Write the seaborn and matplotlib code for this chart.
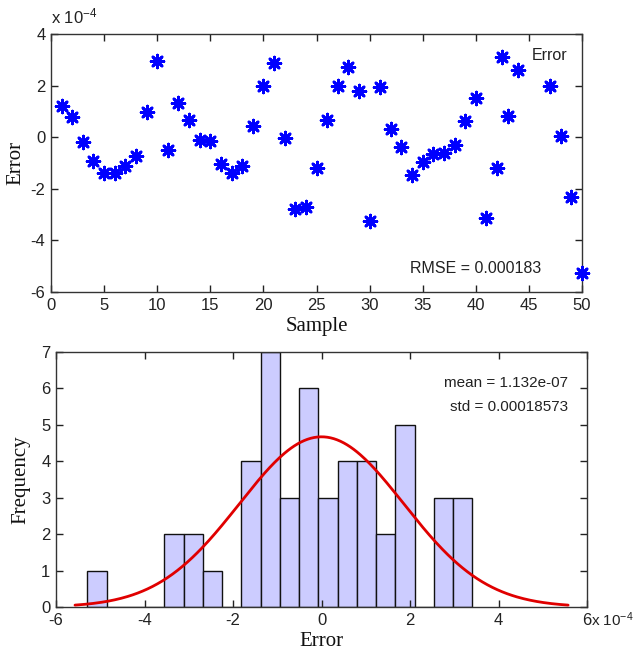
import numpy as np
import pandas as pd
import matplotlib
matplotlib.use('Agg')
import matplotlib.pyplot as plt
import seaborn as sns

# ---- data (error values in units of 1e-4) ----
sample = [1, 2, 3, 4, 5, 6, 7, 8, 9, 10, 11, 12, 13, 14, 15, 16, 17, 18, 19, 20,
          21, 22, 23, 24, 25, 26, 27, 28, 29, 30, 31, 32, 33, 34, 35, 36, 37, 38, 39, 40,
          41, 42, 42.5, 43, 44, 47, 48, 49, 50]
error_e4 = [1.19, 0.80, -0.17, -0.92, -1.40, -1.40, -1.12, -0.73, 0.99, 2.96,
            -0.49, 1.34, 0.65, -0.11, -0.13, -1.05, -1.40, -1.10, 0.44, 2.00,
            2.87, -0.02, -2.80, -2.70, -1.21, 0.65, 2.00, 2.74, 1.80, -3.24,
            1.94, 0.31, -0.37, -1.47, -0.97, -0.65, -0.60, -0.30, 0.61, 1.51,
            -3.15, -1.18, 3.11, 0.84, 2.59, 2.00, 0.05, -2.33, -5.26]
bin_counts = [1, 0, 0, 0, 2, 2, 1, 0, 4, 7, 3, 6, 3, 4, 4, 2, 5, 0, 3, 3]
hist_min = -5.29
hist_max = 3.41
fit_mean = 1.132e-07
fit_std = 0.00018573
rmse = 0.000183
n_samples = 50
x_ticks_top = list(range(0, 51, 5))
y_ticks_top = list(range(-6, 5, 2))
x_ticks_bot = list(range(-6, 7, 2))
y_ticks_bot = list(range(0, 8))

sns.set_style('ticks')
plt.rcParams['font.family'] = ['Liberation Sans', 'DejaVu Sans']
plt.rcParams['mathtext.default'] = 'regular'
plt.rcParams['axes.unicode_minus'] = False

W, H = 636, 654
fig = plt.figure(figsize=(W / 100, H / 100), dpi=100, facecolor='white')
ax1 = fig.add_axes([51 / W, 1 - 292 / H, (582 - 51) / W, (292 - 34) / H])
ax2 = fig.add_axes([56 / W, 1 - 607 / H, (587 - 56) / W, (607 - 352) / H])

serif = ['Liberation Serif', 'DejaVu Serif']
txt_col = '#222222'

# ---- top: error scatter ----
df = pd.DataFrame({'Sample': sample, 'Error': error_e4})
sns.scatterplot(data=df, x='Sample', y='Error', ax=ax1, marker=(8, 2, 0), s=85,
                color='blue', linewidth=2.0, label='Error',
                clip_on=False, zorder=6)
ax1.set_xlim(0, 50)
ax1.set_ylim(-6, 4)
ax1.set_xticks(x_ticks_top)
ax1.set_yticks(y_ticks_top)
ax1.set_xlabel('Sample', fontsize=15, family=serif, labelpad=3, color='#111111')
ax1.set_ylabel('Error', fontsize=15, family=serif, labelpad=4, color='#111111')
leg = ax1.legend(loc='upper right', frameon=False, handlelength=0, handletextpad=0,
                 fontsize=11.5, borderaxespad=0.5)
for h in leg.legend_handles:
    h.set_visible(False)
for t in leg.get_texts():
    t.set_color(txt_col)
ax1.text(0.923, 0.093, f'RMSE = {rmse:.6f}', transform=ax1.transAxes,
         ha='right', va='center', fontsize=11.5, color=txt_col)
ax1.text(0.0, 1.03, 'x 10$^{-4}$', transform=ax1.transAxes, ha='left', va='bottom',
         fontsize=12, color=txt_col)

# ---- bottom: histogram with normal fit ----
edges = np.linspace(hist_min, hist_max, len(bin_counts) + 1)
centers = (edges[:-1] + edges[1:]) / 2
bin_w = edges[1] - edges[0]
hist_df = pd.DataFrame({'center': centers, 'count': bin_counts})
sns.histplot(data=hist_df, x='center', weights='count', bins=list(edges), ax=ax2,
             color=(0.8, 0.8, 1.0), edgecolor='#111111', linewidth=1, alpha=1,
             zorder=1)
mu = fit_mean * 1e4
sd = fit_std * 1e4
xs = np.linspace(mu - 3 * sd, mu + 3 * sd, 300)
ys = n_samples * bin_w * np.exp(-0.5 * ((xs - mu) / sd) ** 2) / (sd * np.sqrt(2 * np.pi))
sns.lineplot(x=xs, y=ys, ax=ax2, color='#e00000', linewidth=2, zorder=6)
ax2.set_xlim(-6, 6)
ax2.set_ylim(0, 7)
ax2.set_xticks(x_ticks_bot)
ax2.set_yticks(y_ticks_bot)
ax2.set_xlabel('Error', fontsize=15, family=serif, labelpad=3, color='#111111')
ax2.set_ylabel('Frequency', fontsize=15, family=serif, labelpad=8, color='#111111')
ax2.text(0.964, 0.878, f'mean = {fit_mean:.3e}', transform=ax2.transAxes,
         ha='right', va='center', fontsize=11, color=txt_col)
ax2.text(0.964, 0.784, f'std = {fit_std:.8f}', transform=ax2.transAxes,
         ha='right', va='center', fontsize=11, color=txt_col)
ax2.annotate('x 10$^{-4}$', xy=(1, 0), xycoords='axes fraction', xytext=(3, -9),
             textcoords='offset points', ha='left', va='center', fontsize=11,
             color=txt_col)

for ax in (ax1, ax2):
    ax.patch.set_visible(False)
    ax.set_axisbelow(False)
    for sp in ax.spines.values():
        sp.set_visible(True)
        sp.set_color('#333333')
        sp.set_linewidth(1)
        sp.set_zorder(5)
    ax.xaxis.set_ticks_position('both')
    ax.yaxis.set_ticks_position('both')
    ax.tick_params(axis='both', which='major', direction='in', length=5, width=1,
                   color='#222222', labelsize=12, labelcolor=txt_col, pad=4)
    ax.xaxis.set_zorder(4)
    ax.yaxis.set_zorder(4)

fig.savefig('out.png', dpi=100, facecolor='white')
